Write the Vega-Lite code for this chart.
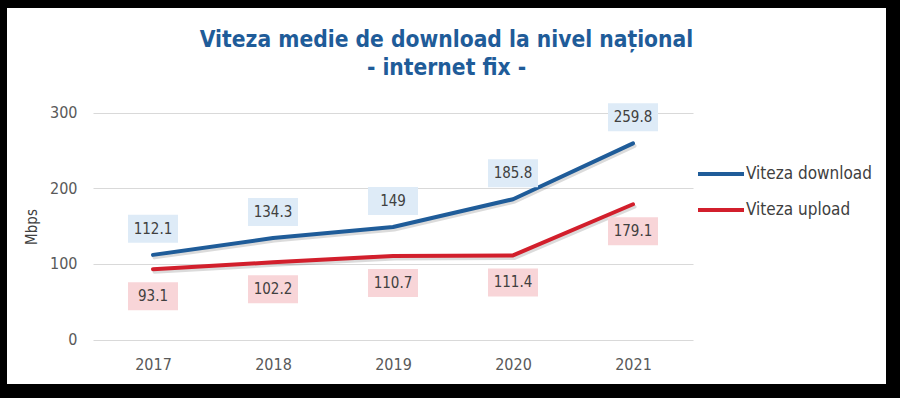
{
  "$schema": "https://vega.github.io/schema/vega-lite/v6.json",
  "width": 879,
  "height": 376,
  "autosize": {"type": "none"},
  "padding": {"left": 7, "top": 8, "right": 14, "bottom": 14},
  "background": "#000000",
  "config": {"view": {"fill": "#ffffff", "stroke": null}, "font": "DejaVu Sans Condensed"},
  "title": {
    "text": ["Viteza medie de download la nivel național", "- internet fix -"],
    "font": "DejaVu Sans Condensed",
    "fontSize": 22.6,
    "fontWeight": "bold",
    "color": "#1f5c99",
    "lineHeight": 28,
    "anchor": "middle",
    "offset": -72
  },
  "data": {
    "values": [
      {"an": 2017, "serie": "Viteza download", "viteza": 112.1},
      {"an": 2018, "serie": "Viteza download", "viteza": 134.3},
      {"an": 2019, "serie": "Viteza download", "viteza": 149},
      {"an": 2020, "serie": "Viteza download", "viteza": 185.8},
      {"an": 2021, "serie": "Viteza download", "viteza": 259.8},
      {"an": 2017, "serie": "Viteza upload", "viteza": 93.1},
      {"an": 2018, "serie": "Viteza upload", "viteza": 102.2},
      {"an": 2019, "serie": "Viteza upload", "viteza": 110.7},
      {"an": 2020, "serie": "Viteza upload", "viteza": 111.4},
      {"an": 2021, "serie": "Viteza upload", "viteza": 179.1}
    ]
  },
  "encoding": {
    "x": {
      "field": "an",
      "type": "quantitative",
      "scale": {"domain": [2015.7833, 2023.1083], "nice": false, "zero": false},
      "axis": {
        "values": [2017, 2018, 2019, 2020, 2021],
        "format": "d",
        "offset": -44.5,
        "ticks": false,
        "domain": false,
        "grid": false,
        "labelPadding": 17,
        "labelFontSize": 16,
        "labelColor": "#595959",
        "labelFlush": false,
        "title": null
      }
    },
    "y": {
      "field": "viteza",
      "type": "quantitative",
      "scale": {"domain": [-58.94, 439.07], "nice": false, "zero": false},
      "axis": {
        "values": [0, 100, 200, 300],
        "offset": -686,
        "tickSize": 600,
        "tickColor": "#d9d9d9",
        "tickWidth": 1,
        "domain": false,
        "grid": false,
        "labelPadding": 16,
        "labelFontSize": 16,
        "labelColor": "#595959",
        "title": "Mbps",
        "titleFontSize": 15,
        "titleFontWeight": "normal",
        "titleColor": "#404040",
        "titleX": -653.5,
        "titleY": 218.5,
        "titleAngle": -90,
        "titleAlign": "center",
        "titleBaseline": "bottom"
      }
    }
  },
  "layer": [
    {
      "mark": {"type": "line", "strokeWidth": 4, "color": "#000000", "opacity": 0.14, "xOffset": 1.5, "yOffset": 2.5, "strokeCap": "round"},
      "encoding": {"detail": {"field": "serie", "type": "nominal"}}
    },
    {
      "mark": {"type": "line", "strokeWidth": 4, "strokeCap": "round", "strokeJoin": "round"},
      "encoding": {
        "color": {
          "field": "serie",
          "type": "nominal",
          "scale": {"domain": ["Viteza download", "Viteza upload"], "range": ["#1f5c99", "#d21f2c"]},
          "legend": {
            "orient": "none",
            "legendX": 689,
            "legendY": 156,
            "title": null,
            "symbolType": "stroke",
            "symbolSize": 2116,
            "symbolStrokeWidth": 4,
            "clipHeight": 20,
            "rowPadding": 16,
            "labelFontSize": 17,
            "labelColor": "#404040",
            "labelOffset": 0,
            "padding": 0
          }
        }
      }
    },
    {
      "transform": [{"filter": "datum.serie === 'Viteza download'"}],
      "mark": {"type": "rect", "width": 50, "height": 28, "yOffset": -26, "fill": "#deebf7"}
    },
    {
      "transform": [{"filter": "datum.serie === 'Viteza upload'"}],
      "mark": {"type": "rect", "width": 50, "height": 28, "yOffset": 27, "fill": "#f8d5d8"}
    },
    {
      "transform": [{"filter": "datum.serie === 'Viteza download'"}],
      "mark": {"type": "text", "dy": -26, "fontSize": 15, "color": "#404040", "baseline": "middle"},
      "encoding": {"text": {"field": "viteza", "type": "nominal"}}
    },
    {
      "transform": [{"filter": "datum.serie === 'Viteza upload'"}],
      "mark": {"type": "text", "dy": 27, "fontSize": 15, "color": "#404040", "baseline": "middle"},
      "encoding": {"text": {"field": "viteza", "type": "nominal"}}
    }
  ]
}
